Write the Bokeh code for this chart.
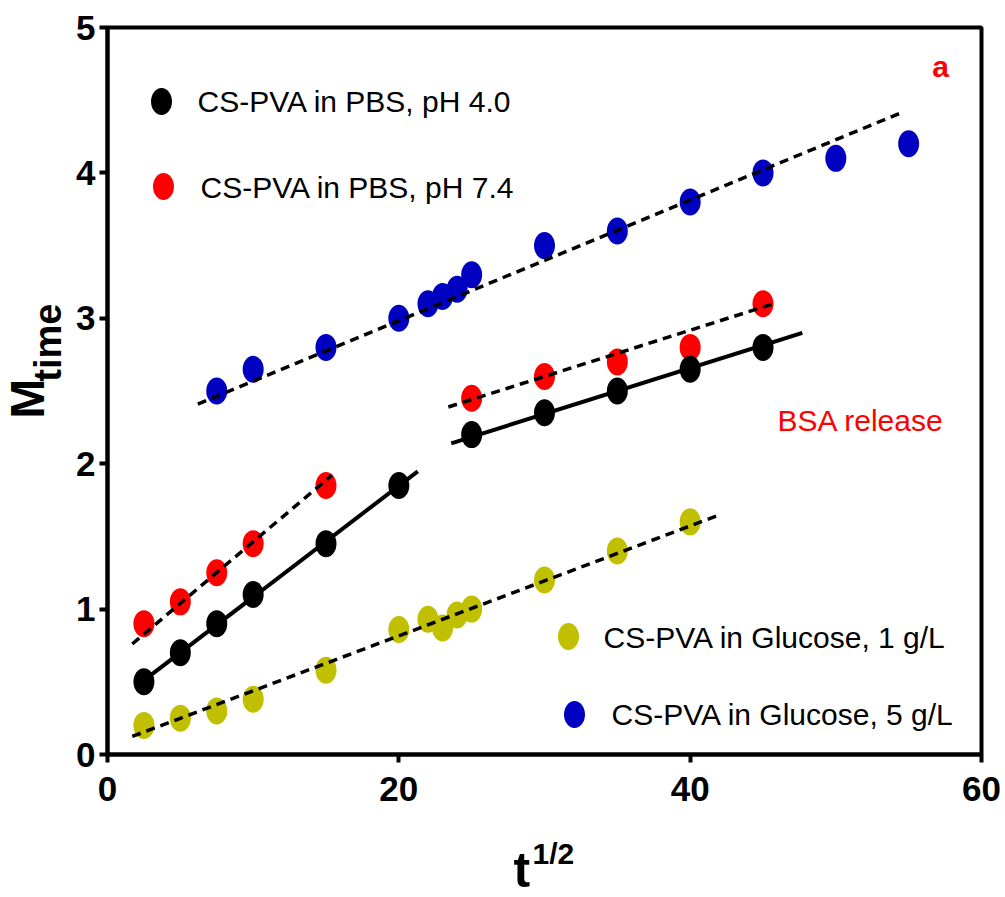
import math

from bokeh.embed import file_html
from bokeh.layouts import column, row
from bokeh.models import FixedTicker, Label, Range1d
from bokeh.plotting import figure
from bokeh.resources import INLINE

# ---- data: M_time versus square root of time ----
t_pbs40 = [2.5, 5, 7.5, 10, 15, 20, 25, 30, 35, 40, 45]
m_pbs40 = [0.5, 0.7, 0.9, 1.1, 1.45, 1.85, 2.2, 2.35, 2.5, 2.65, 2.8]

t_pbs74 = [2.5, 5, 7.5, 10, 15, 25, 30, 35, 40, 45]
m_pbs74 = [0.9, 1.05, 1.25, 1.45, 1.85, 2.45, 2.6, 2.7, 2.8, 3.1]

t_glu1 = [2.5, 5, 7.5, 10, 15, 20, 22, 23, 24, 25, 30, 35, 40]
m_glu1 = [0.2, 0.25, 0.3, 0.38, 0.58, 0.86, 0.93, 0.87, 0.96, 1.0, 1.2, 1.4, 1.6]

t_glu5 = [7.5, 10, 15, 20, 22, 23, 24, 25, 30, 35, 40, 45, 50, 55]
m_glu5 = [2.5, 2.65, 2.8, 3.0, 3.1, 3.15, 3.2, 3.3, 3.5, 3.6, 3.8, 4.0, 4.1, 4.2]

series_names = ["CS-PVA in PBS, pH 4.0", "CS-PVA in PBS, pH 7.4",
                "CS-PVA in Glucose, 1 g/L", "CS-PVA in Glucose, 5 g/L"]

# linear fits: start, end, slope, intercept
fit_start = [2.5, 23.6, 1.7, 23.4, 1.7, 6.2]
fit_end = [21.3, 47.7, 15.4, 45.7, 42.1, 54.5]
fit_slope = [0.0765, 0.0315, 0.0847, 0.0318, 0.0378, 0.0415]
fit_icpt = [0.318, 1.397, 0.616, 1.646, 0.060, 2.153]
fit_solid = [True, True, False, False, False, False]

x_ticks = [0, 20, 40, 60]
y_ticks = [0, 1, 2, 3, 4, 5]

# ---- styling ----
BLACK = "#000000"
RED = "#ff0000"
OLIVE = "#c0c000"
BLUE = "#0000c0"
FONT = "Liberation Sans"

# page geometry (pixels): a strip on the left and one at the bottom hold the
# axis titles, the main figure holds the data
W, H = 1005, 897
STRIP_W = 70          # left strip width
STRIP_H = 70          # bottom strip height
MAIN_W, MAIN_H = W - STRIP_W, H - STRIP_H
FRAME_L, FRAME_R, FRAME_T, FRAME_B = 107, 981, 27, 754   # frame in page pixels
X0, X1, Y0, Y1 = 0, 60, 0, 5


def fx(px):
    """page pixel column -> data x"""
    return X0 + (px - FRAME_L) * (X1 - X0) / (FRAME_R - FRAME_L)


def fy(py):
    """page pixel row -> data y"""
    return Y0 + (FRAME_B - py) * (Y1 - Y0) / (FRAME_B - FRAME_T)


fig = figure(width=MAIN_W, height=MAIN_H, x_range=Range1d(X0, X1),
             y_range=Range1d(Y0, Y1), output_backend="svg",
             toolbar_location=None,
             min_border_left=FRAME_L - STRIP_W, min_border_right=W - FRAME_R,
             min_border_top=FRAME_T, min_border_bottom=MAIN_H - FRAME_B)
fig.grid.visible = False
fig.background_fill_color = "white"
fig.border_fill_color = "white"
fig.outline_line_color = BLACK
fig.outline_line_width = 4

for ax, ticks in ((fig.xaxis, x_ticks), (fig.yaxis, y_ticks)):
    ax.ticker = FixedTicker(ticks=ticks)
    ax.axis_line_width = 4
    ax.axis_line_color = BLACK
    ax.major_tick_line_width = 4
    ax.major_tick_in = 0
    ax.major_tick_out = 8
    ax.minor_tick_line_color = None
    ax.major_label_text_font = FONT
    ax.major_label_text_font_style = "bold"
    ax.major_label_text_font_size = "35px"
    ax.major_label_text_color = BLACK
fig.xaxis.major_label_standoff = 14
fig.yaxis.major_label_standoff = 4

MW, MH = 21, 27


def dots(xs, ys, color):
    fig.ellipse(xs, ys, width=MW, height=MH, width_units="screen",
                height_units="screen", fill_color=color, line_color=None)


dots(t_glu1, m_glu1, OLIVE)
dots(t_glu5, m_glu5, BLUE)
dots(t_pbs74, m_pbs74, RED)
dots(t_pbs40, m_pbs40, BLACK)

for xa, xb, k, b, solid in zip(fit_start, fit_end, fit_slope, fit_icpt, fit_solid):
    fig.line([xa, xb], [k * xa + b, k * xb + b], line_color=BLACK,
             line_width=4 if solid else 3.5,
             line_dash="solid" if solid else "9 6")

# ---- legend, drawn as markers with text ----
legend_colors = [BLACK, RED, OLIVE, BLUE]
legend_marker_px = [(161, 101), (163, 186), (568, 636), (574, 714)]
legend_text_px = [(197, 101), (200, 187), (603, 637), (611, 714)]
for name, col, (mx, my), (tx, ty) in zip(series_names, legend_colors,
                                         legend_marker_px, legend_text_px):
    fig.ellipse([fx(mx)], [fy(my)], width=MW, height=MH, width_units="screen",
                height_units="screen", fill_color=col, line_color=None)
    fig.add_layout(Label(x=fx(tx), y=fy(ty), text=name, text_font=FONT,
                         text_font_size="30px", text_color=BLACK,
                         text_baseline="middle", text_align="left"))

fig.add_layout(Label(x=fx(777), y=fy(420), text="BSA release", text_font=FONT,
                     text_font_size="30px", text_color=RED,
                     text_baseline="middle", text_align="left"))
fig.add_layout(Label(x=fx(940), y=fy(66), text="a", text_font=FONT,
                     text_font_style="bold", text_font_size="30px",
                     text_color=RED, text_baseline="middle",
                     text_align="center"))


def strip(width, height):
    s = figure(width=width, height=height, x_range=Range1d(0, width),
               y_range=Range1d(0, height), output_backend="svg",
               toolbar_location=None, x_axis_type=None, y_axis_type=None,
               min_border=0)
    s.outline_line_color = None
    s.background_fill_color = "white"
    s.border_fill_color = "white"
    return s


def title_text(target, x, y, text, size, angle=0.0):
    target.add_layout(Label(x=x, y=y, text=text, angle=angle, text_font=FONT,
                            text_font_style="bold", text_font_size=size,
                            text_color=BLACK, text_align="left",
                            text_baseline="middle"))


# y title: M with subscript "time", reading upwards
ytitle = strip(STRIP_W, MAIN_H)
title_text(ytitle, 27, MAIN_H - 445, "M", "48px", math.pi / 2)
title_text(ytitle, 47, MAIN_H - 403, "time", "38px", math.pi / 2)

# x title: t with superscript "1/2"
xtitle = strip(W, STRIP_H)
title_text(xtitle, 513, H - 869, "t", "50px")
title_text(xtitle, 532, H - 853, "1/2", "30px")

p = column(row(ytitle, fig, spacing=0), xtitle, spacing=0)

open("out.html", "w").write(file_html(p, INLINE))
